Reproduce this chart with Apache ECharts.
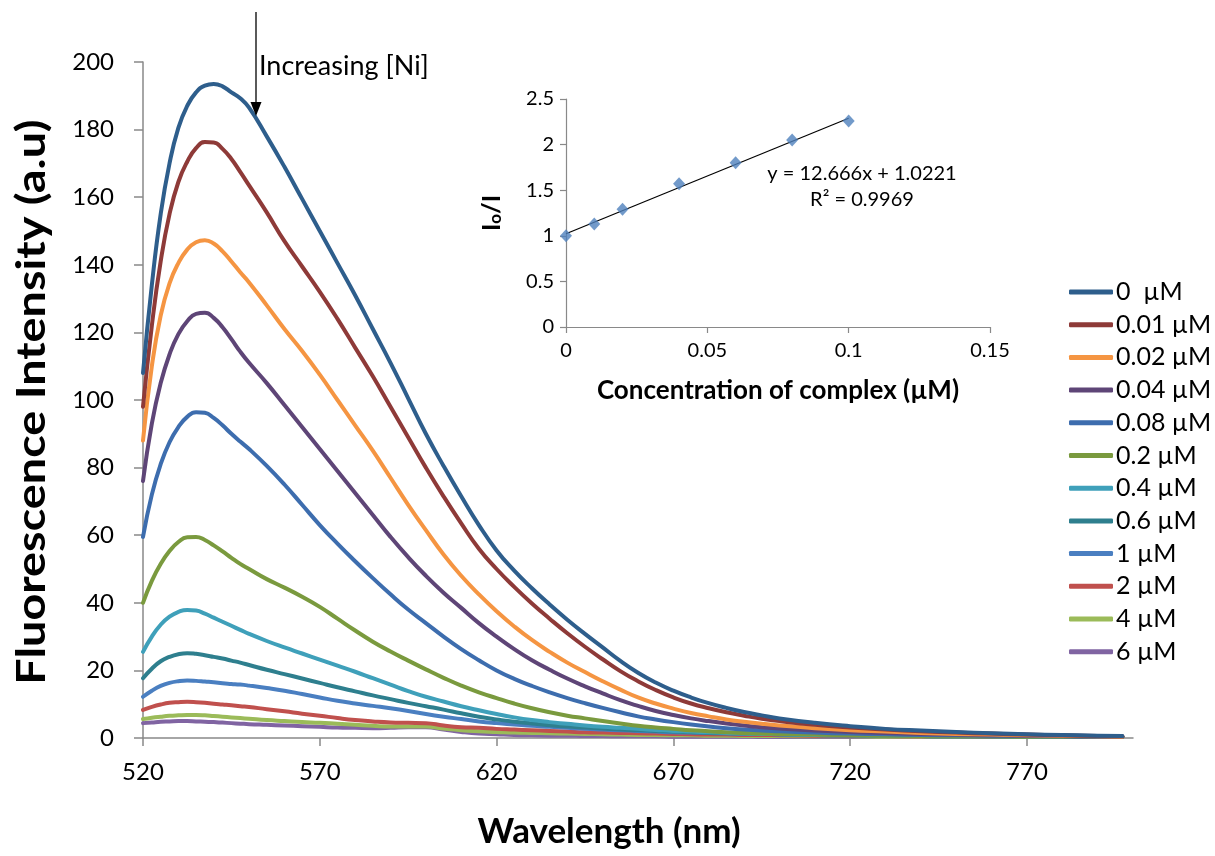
<!DOCTYPE html>
<html>
<head>
<meta charset="utf-8">
<script src="https://cdn.jsdelivr.net/npm/echarts@6/dist/echarts.min.js"></script>
<style>
  html, body { margin: 0; padding: 0; background: #fff; }
  #chart { width: 1215px; height: 856px; }
</style>
</head>
<body>
<div id="chart"></div>
<script>
// Emission wavelengths (nm) shared by every spectrum; denser around the band maximum
const wavelength = [520,522.5,525,527.5,530,532.5,535,537.5,540,542.5,545,547.5,550,555,560,565,570,575,580,585,590,595,600,605,610,615,620,625,630,635,640,645,650,655,660,665,670,675,680,685,690,695,700,710,720,730,740,750,760,770,780,790,797];

// Ni concentration of each spectrum
const concLabels = ['0  µM','0.01 µM','0.02 µM','0.04 µM','0.08 µM','0.2 µM','0.4 µM','0.6 µM','1 µM','2 µM','4 µM','6 µM'];
const lineColors = ['#2E5E8C','#8E3A38','#F59542','#5E4577','#3D6DAE','#7A9A3E','#3FA0BA','#2E7F8E','#4A7FC1','#C0504D','#9BBB59','#8064A2'];

// Fluorescence intensity (a.u) at each wavelength
const int0   = [108,134,155,170,180.5,187,191,193,193.5,192.8,191,189.3,186.5,178,169,159.5,150,140.5,131,121,111,100.5,90,80.5,71.5,63,55.5,49.5,44.3,39.5,35,30.8,26.8,22.8,19.3,16.4,14,12,10.3,8.9,7.7,6.7,5.8,4.5,3.5,2.7,2.2,1.8,1.4,1.1,0.9,0.7,0.6];
const int001 = [98,122,141,155,164.5,170.5,174.5,176.3,176.2,174.3,171.3,167.5,163.5,155.5,147,139.5,132,124,115.5,107,98,89,80,71.5,63.5,56,50,44.7,39.8,35.3,31,27,23.3,19.8,16.8,14.2,12,10.2,8.8,7.6,6.6,5.7,5,3.9,3.1,2.5,2,1.6,1.3,1,0.8,0.6,0.5];
const int002 = [88,110,125,134.5,140.5,144.5,146.7,147.3,146.3,144,141,137.8,134.8,128,121,114.5,107.5,100,92.5,85,77,69,61.5,54.3,48,42.5,37.5,33,29,25.5,22.3,19.5,16.8,14.3,12,10.2,8.7,7.4,6.4,5.5,4.8,4.2,3.7,2.9,2.3,1.9,1.5,1.2,1,0.8,0.7,0.5,0.4];
const int004 = [76,93,105,113.5,119.5,123.3,125.5,125.8,124.3,121.5,118,114.3,111,105,98.5,92,85.5,79,72.5,66,59.5,53.5,48,43,38.5,34,30,26.3,23,20.2,17.6,15.3,13.2,11.2,9.5,8,6.8,5.8,5,4.3,3.7,3.2,2.8,2.2,1.8,1.5,1.2,1,0.8,0.7,0.6,0.5,0.4];
const int008 = [59.5,72,81,87.5,92,95,96.4,96.2,94.7,92.5,90,87.7,85.5,80.5,75,69,63,57.5,52.3,47.3,42.5,38,34,30,26.3,23,20,17.5,15.4,13.5,11.8,10.3,8.9,7.6,6.4,5.5,4.7,4,3.4,2.9,2.5,2.2,2,1.6,1.3,1.1,0.9,0.8,0.7,0.6,0.5,0.4,0.4];
const int02  = [40,46.5,51.5,55.3,58,59.4,59.5,58.6,57,55.2,53.3,51.5,50,47,44.5,41.8,38.8,35.3,31.8,28.5,25.6,22.9,20.3,17.8,15.5,13.5,11.8,10.2,8.8,7.6,6.6,5.8,5,4.3,3.6,3.1,2.7,2.3,2,1.7,1.5,1.3,1.2,1,0.8,0.7,0.6,0.5,0.5,0.4,0.4,0.3,0.3];
const int04  = [25.5,30,33.5,35.9,37.3,37.9,37.7,36.8,35.6,34.4,33.2,32,30.8,28.7,26.8,25,23.2,21.4,19.6,17.7,15.8,13.9,12.2,10.8,9.4,8.2,7.1,6.1,5.3,4.7,4.2,3.7,3.3,3,2.7,2.4,2.1,1.9,1.7,1.5,1.3,1.2,1.1,0.9,0.8,0.7,0.6,0.5,0.5,0.4,0.4,0.3,0.3];
const int06  = [17.7,20.5,22.7,24,24.8,25.1,24.9,24.5,24,23.5,22.9,22.3,21.6,20.2,18.9,17.6,16.3,15,13.8,12.6,11.5,10.4,9.4,8.4,7.3,6.3,5.5,4.8,4.3,3.8,3.4,3.1,2.8,2.5,2.3,2.1,1.9,1.7,1.5,1.4,1.3,1.2,1.1,0.9,0.8,0.7,0.6,0.5,0.5,0.4,0.4,0.3,0.3];
const int1   = [12.2,14,15.4,16.3,16.8,17,16.9,16.7,16.5,16.2,16,15.8,15.5,14.8,14,13,12,11,10.2,9.5,8.8,8,7.1,6.3,5.6,4.9,4.4,4,3.6,3.3,3,2.7,2.5,2.3,2.1,1.9,1.7,1.6,1.5,1.4,1.3,1.2,1.1,0.9,0.8,0.7,0.6,0.5,0.5,0.4,0.4,0.3,0.3];
const int2   = [8.3,9.2,9.9,10.4,10.6,10.7,10.6,10.4,10.1,9.9,9.7,9.4,9.2,8.5,7.9,7.2,6.6,5.9,5.3,4.9,4.6,4.5,4.4,3.7,3.2,3,2.7,2.5,2.3,2.1,1.9,1.7,1.6,1.5,1.4,1.3,1.2,1.1,1,1,0.9,0.9,0.8,0.7,0.6,0.6,0.5,0.5,0.4,0.4,0.3,0.3,0.3];
const int4   = [5.6,6,6.3,6.55,6.7,6.8,6.8,6.7,6.5,6.3,6.1,5.9,5.7,5.3,5,4.7,4.5,4.2,3.9,3.6,3.4,3.4,3.4,2.8,2.3,2,1.8,1.6,1.5,1.4,1.3,1.2,1.1,1,0.9,0.9,0.8,0.8,0.7,0.7,0.6,0.6,0.6,0.5,0.5,0.4,0.4,0.4,0.3,0.3,0.3,0.3,0.3];
const int6   = [4.4,4.6,4.8,4.9,5,5,4.9,4.8,4.7,4.55,4.4,4.25,4.1,3.9,3.7,3.5,3.3,3.1,3,2.9,3,3.2,3.2,2.5,1.8,1.3,1.1,0.9,0.8,0.7,0.7,0.6,0.6,0.5,0.5,0.5,0.4,0.4,0.4,0.4,0.4,0.3,0.3,0.3,0.3,0.3,0.3,0.3,0.3,0.3,0.3,0.3,0.3];
const intensities = [int0,int001,int002,int004,int008,int02,int04,int06,int1,int2,int4,int6];

// Stern–Volmer inset: complex concentration (µM) vs I0/I
const complexConc = [0,0.01,0.02,0.04,0.06,0.08,0.1];
const ratioI0I    = [1,1.13,1.29,1.57,1.80,2.05,2.26];
const fitSlope = 12.666, fitIntercept = 1.0221, fitR2 = 0.9969;

// Axis tick values
const xTicks = [520,570,620,670,720,770];

const FONT = 'Lato';
const axisGray = '#898989';

const spectra = concLabels.map((name, k) => ({
  name,
  type: 'line',
  xAxisIndex: 0,
  yAxisIndex: 0,
  data: wavelength.map((w, i) => [w, intensities[k][i]]),
  showSymbol: false,
  smooth: 0.5,
  lineStyle: { width: 4, color: lineColors[k], cap: 'round', join: 'round' },
  itemStyle: { color: lineColors[k] },
  z: 20 - k
}));

const fitEnd = complexConc[complexConc.length - 1];
const trend = [[0, fitIntercept], [fitEnd, fitSlope * fitEnd + fitIntercept]];

const chart = echarts.init(document.getElementById('chart'), null, { renderer: 'canvas' });

chart.setOption({
  animation: false,
  backgroundColor: '#ffffff',
  textStyle: { fontFamily: FONT },
  grid: [
    { left: 143, right: 82, top: 62, bottom: 118 },
    { left: 566, right: 225, top: 99, bottom: 529 }
  ],
  xAxis: [
    {
      type: 'value', gridIndex: 0, min: 520, max: 800,
      name: 'Wavelength (nm)', nameLocation: 'middle', nameGap: 76,
      nameTextStyle: { fontFamily: FONT, fontWeight: 'bold', fontSize: 35, color: '#000', padding: [0, 58, 0, 0] },
      splitLine: { show: false },
      axisLine: { lineStyle: { color: axisGray, width: 1.5 } },
      axisTick: { customValues: xTicks, length: 8, lineStyle: { color: axisGray, width: 1.5 } },
      axisLabel: { customValues: xTicks, margin: 22, fontSize: 24, color: '#000', fontFamily: FONT }
    },
    {
      type: 'value', gridIndex: 1, min: 0, max: 0.15, interval: 0.05,
      name: 'Concentration of complex (µM)', nameLocation: 'middle', nameGap: 51,
      nameTextStyle: { fontFamily: FONT, fontWeight: 'bold', fontSize: 26, color: '#000' },
      splitLine: { show: false },
      axisLine: { lineStyle: { color: axisGray, width: 1.2 } },
      axisTick: { length: 6, lineStyle: { color: axisGray, width: 1.2 } },
      axisLabel: { margin: 14, fontSize: 20, color: '#000', fontFamily: FONT }
    }
  ],
  yAxis: [
    {
      type: 'value', gridIndex: 0, min: 0, max: 200, interval: 20,
      splitLine: { show: false },
      axisLine: { show: true, lineStyle: { color: axisGray, width: 1.5 } },
      axisTick: { show: true, length: 9, lineStyle: { color: axisGray, width: 1.5 } },
      axisLabel: { margin: 29, fontSize: 24, color: '#000', fontFamily: FONT }
    },
    {
      type: 'value', gridIndex: 1, min: 0, max: 2.5, interval: 0.5,
      name: '{a|I}{b|o}{a|/I}', nameLocation: 'middle', nameGap: 62, nameRotate: 90,
      nameTextStyle: {
        rich: {
          a: { fontFamily: FONT, fontWeight: 'bold', fontSize: 25, color: '#000' },
          b: { fontFamily: FONT, fontWeight: 'bold', fontSize: 17, color: '#000', padding: [8, 0, 0, 0] }
        }
      },
      splitLine: { show: false },
      axisLine: { show: true, lineStyle: { color: axisGray, width: 1.2 } },
      axisTick: { show: true, length: 6, lineStyle: { color: axisGray, width: 1.2 } },
      axisLabel: { margin: 12, fontSize: 20, color: '#000', fontFamily: FONT }
    }
  ],
  legend: {
    orient: 'vertical',
    left: 1064,
    top: 273,
    itemWidth: 44,
    itemHeight: 5,
    itemGap: 4.7,
    icon: 'roundRect',
    data: concLabels,
    textStyle: { fontFamily: FONT, fontSize: 25, color: '#000', lineHeight: 28, padding: [0, 0, 0, -2] }
  },
  series: spectra.concat([
    {
      name: 'fit',
      type: 'line',
      xAxisIndex: 1, yAxisIndex: 1,
      data: trend,
      showSymbol: false,
      lineStyle: { color: '#000', width: 1.2 },
      z: 30
    },
    {
      name: 'I0/I',
      type: 'scatter',
      xAxisIndex: 1, yAxisIndex: 1,
      data: complexConc.map((c, i) => [c, ratioI0I[i]]),
      symbol: 'diamond',
      symbolSize: [12, 13],
      itemStyle: { color: '#4F81BD' },
      z: 31
    }
  ]),
  graphic: [
    // Main y-axis title, set in a tall bold face
    { type: 'text', x: 32, y: 402, rotation: Math.PI / 2, scaleX: 1.17, scaleY: 1,
      style: { text: 'Fluorescence Intensity (a.u)', font: 'bold 40px ' + FONT, fill: '#000', align: 'center', verticalAlign: 'middle' }, z: 50 },
    // "Increasing [Ni]" arrow
    { type: 'line', shape: { x1: 256, y1: 12, x2: 256, y2: 104 }, style: { stroke: '#000', lineWidth: 1.3 }, z: 50 },
    { type: 'polygon', shape: { points: [[250.5, 102], [261.5, 102], [256, 116]] }, style: { fill: '#000' }, z: 50 },
    { type: 'text', x: 259, y: 66, style: { text: 'Increasing [Ni]', font: '27px ' + FONT, fill: '#000', verticalAlign: 'middle' }, z: 50 },
    // Linear fit annotation
    { type: 'text', x: 862, y: 174, style: { text: 'y = 12.666x + 1.0221', font: '20px ' + FONT, fill: '#000', align: 'center', verticalAlign: 'middle' }, z: 50 },
    { type: 'text', x: 862, y: 200, style: { text: 'R² = ' + fitR2.toFixed(4), font: '20px ' + FONT, fill: '#000', align: 'center', verticalAlign: 'middle' }, z: 50 }
  ]
});
</script>
</body>
</html>
